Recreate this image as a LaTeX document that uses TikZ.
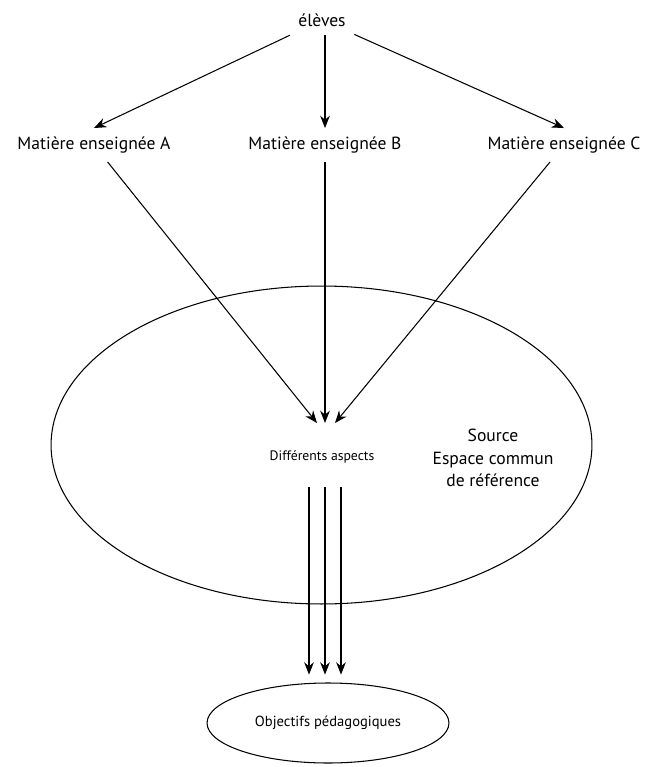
\documentclass[tikz,border=0pt]{standalone}
\usepackage{fontspec}
\setmainfont{PT Sans}
\usetikzlibrary{arrows.meta,shapes.geometric}

\tikzset{
  etiquette/.style = {font=\fontsize{10}{13}\selectfont, inner sep=1pt, outer sep=4pt},
  petit/.style = {font=\fontsize{7.8}{10}\selectfont, inner sep=1pt},
  fleche/.style = {-{Stealth[length=7pt, width=5.5pt]}, line width=0.6pt},
}

\begin{document}
\begin{tikzpicture}[x=0.02cm, y=-0.02cm]
  \useasboundingbox (0,0) rectangle (651,767);

  % les deux ellipses
  \node[ellipse, draw, line width=0.6pt, minimum width=10.82cm,
    minimum height=6.36cm, inner sep=0pt] (espace) at (321.5,445) {};
  \node[ellipse, draw, line width=0.6pt, minimum width=4.84cm,
    minimum height=1.6cm, inner sep=0pt,
    font=\fontsize{8.3}{10}\selectfont] (objectifs) at (328,723)
    {Objectifs pédagogiques};

  % textes
  \node[etiquette] (eleves) at (322,20) {élèves};
  \node[etiquette] (matA) at (94,145) {Matière enseignée A};
  \node[etiquette] (matB) at (325,145) {Matière enseignée B};
  \node[etiquette] (matC) at (564,145) {Matière enseignée C};
  \node[petit] (aspects) at (322,457) {Différents aspects};
  \node[etiquette, align=center] (source) at (493,458)
    {Source\\Espace commun\\de référence};

  % pointes au-dessus des aspects
  \coordinate (pointeA) at (317,423);
  \coordinate (pointeB) at (325,423);
  \coordinate (pointeC) at (335,423);

  \draw[fleche] (eleves) -- (matA.north);
  \draw[fleche] (eleves.south -| matB) -- (matB.north);
  \draw[fleche] (eleves) -- (matC.north);

  \draw[fleche] (matA) -- (pointeA);
  \draw[fleche] (matB) -- (pointeB);
  \draw[fleche] (matC) -- (pointeC);

  % vers les objectifs
  \foreach \i/\x in {1/309,2/325,3/341} {
    \coordinate (depart\i) at (\x,487);
    \draw[fleche, shorten >=4.5pt] (depart\i) -- (depart\i |- objectifs.north);
  }
\end{tikzpicture}
\end{document}
